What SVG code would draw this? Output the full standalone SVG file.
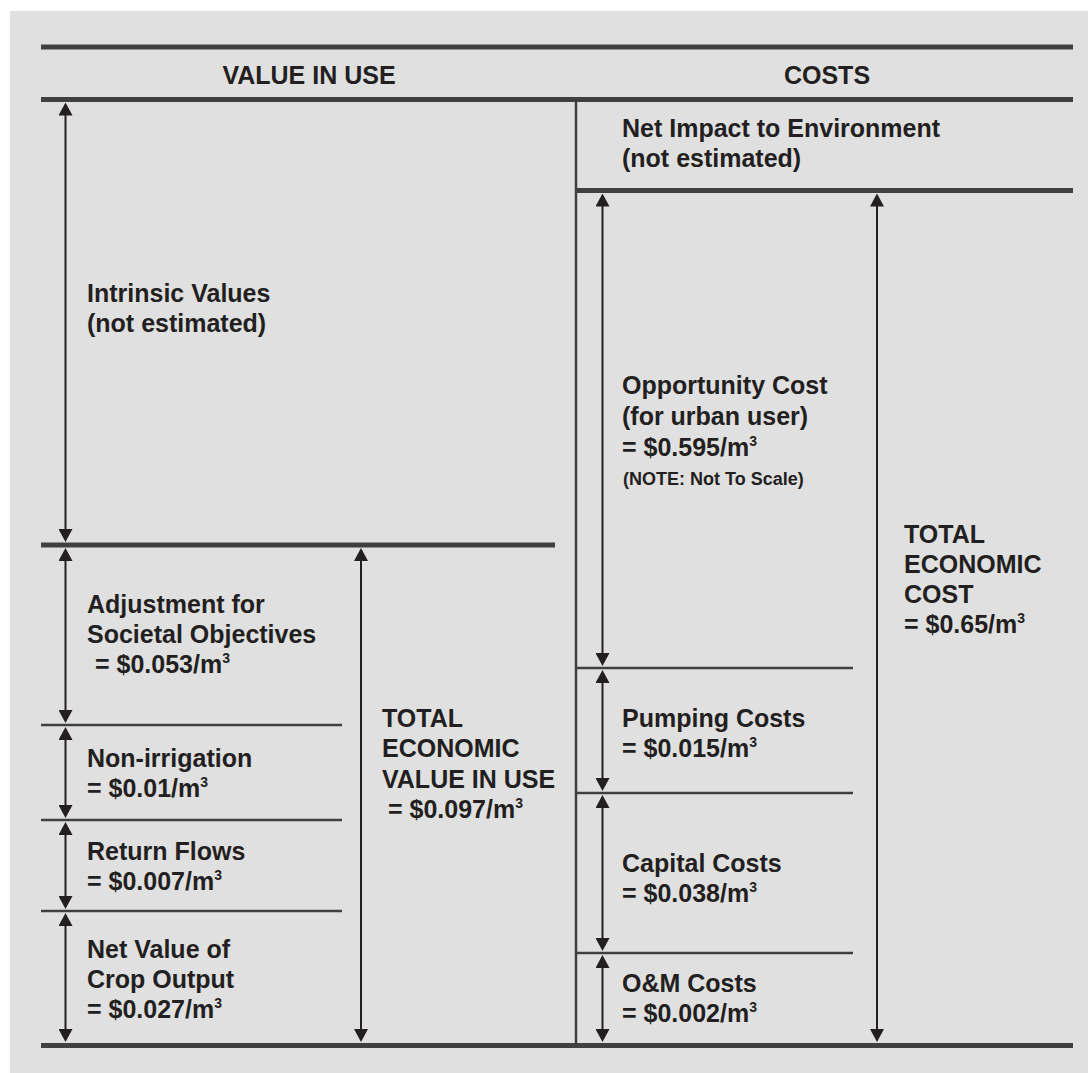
<svg xmlns="http://www.w3.org/2000/svg" width="1088" height="1073" viewBox="0 0 1088 1073">
<style>
.t{font-family:"Liberation Sans",Arial,sans-serif;font-weight:bold;font-size:25px;fill:#231f20}
.h{font-size:25px;text-anchor:middle}
.n{font-size:18px}
.thick{stroke:#404040;stroke-width:5;fill:none}
.thin{stroke:#404040;stroke-width:2.5;fill:none}
.arr{stroke:#231f20;stroke-width:2;fill:none;marker-start:url(#ah);marker-end:url(#ah)}
</style>
<defs>
<marker id="ah" viewBox="0 0 13 14" markerWidth="13" markerHeight="14" refX="10" refY="7" orient="auto-start-reverse" markerUnits="userSpaceOnUse">
<path d="M0,0 L13,7 L0,14 Z" fill="#231f20"/>
</marker>
</defs>
<rect x="0" y="0" width="1088" height="1073" fill="#ffffff"/>
<rect x="10" y="11" width="1078" height="1062" fill="#e0e0e0"/>

<g id="frame">
<line class="thick" x1="41" y1="47" x2="1073" y2="47"/>
<line class="thick" x1="41" y1="99.5" x2="1073" y2="99.5"/>
<line class="thick" x1="576" y1="190.5" x2="1073" y2="190.5"/>
<line class="thick" x1="41" y1="545" x2="555" y2="545"/>
<line class="thick" x1="41" y1="1045.5" x2="1073" y2="1045.5"/>
<line class="thin" x1="576" y1="99" x2="576" y2="1045"/>
<line class="thin" x1="41" y1="725" x2="342" y2="725"/>
<line class="thin" x1="41" y1="820" x2="342" y2="820"/>
<line class="thin" x1="41" y1="911" x2="342" y2="911"/>
<line class="thin" x1="576" y1="668" x2="853" y2="668"/>
<line class="thin" x1="576" y1="793" x2="853" y2="793"/>
<line class="thin" x1="576" y1="953" x2="853" y2="953"/>
</g>

<g id="headers">
<text class="t h" x="309" y="83.5">VALUE IN USE</text>
<text class="t h" x="827" y="83.5">COSTS</text>
</g>

<g id="connectors">
<line class="arr" x1="65.5" y1="105.5" x2="65.5" y2="539"/>
<line class="arr" x1="65.5" y1="551" x2="65.5" y2="720"/>
<line class="arr" x1="65.5" y1="730" x2="65.5" y2="815"/>
<line class="arr" x1="65.5" y1="825" x2="65.5" y2="906"/>
<line class="arr" x1="65.5" y1="916" x2="65.5" y2="1039"/>
<line class="arr" x1="361" y1="551" x2="361" y2="1039"/>
<line class="arr" x1="602.5" y1="196.5" x2="602.5" y2="663"/>
<line class="arr" x1="602.5" y1="673" x2="602.5" y2="788"/>
<line class="arr" x1="602.5" y1="798" x2="602.5" y2="948"/>
<line class="arr" x1="602.5" y1="958" x2="602.5" y2="1039"/>
<line class="arr" x1="877" y1="196.5" x2="877" y2="1039"/>
</g>

<g id="intrinsic">
<text class="t" x="87" y="301.5">Intrinsic Values</text>
<text class="t" x="87" y="331.5">(not estimated)</text>
</g>
<g id="adjustment">
<text class="t" x="87" y="613">Adjustment for</text>
<text class="t" x="87" y="643">Societal Objectives</text>
<text class="t" x="95" y="673">= $0.053/m<tspan font-size="14" dy="-10">3</tspan></text>
</g>
<g id="nonirrigation">
<text class="t" x="87" y="767">Non-irrigation</text>
<text class="t" x="87" y="797">= $0.01/m<tspan font-size="14" dy="-10">3</tspan></text>
</g>
<g id="returnflows">
<text class="t" x="87" y="860">Return Flows</text>
<text class="t" x="87" y="890">= $0.007/m<tspan font-size="14" dy="-10">3</tspan></text>
</g>
<g id="netvalue">
<text class="t" x="87" y="958">Net Value of</text>
<text class="t" x="87" y="988">Crop Output</text>
<text class="t" x="87" y="1018">= $0.027/m<tspan font-size="14" dy="-10">3</tspan></text>
</g>
<g id="totalvalue">
<text class="t" x="382" y="727">TOTAL</text>
<text class="t" x="382" y="757">ECONOMIC</text>
<text class="t" x="382" y="788">VALUE IN USE</text>
<text class="t" x="388" y="818">= $0.097/m<tspan font-size="14" dy="-10">3</tspan></text>
</g>

<g id="netimpact">
<text class="t" x="622" y="137">Net Impact to Environment</text>
<text class="t" x="622" y="167">(not estimated)</text>
</g>
<g id="opportunity">
<text class="t" x="622" y="394">Opportunity Cost</text>
<text class="t" x="622" y="425">(for urban user)</text>
<text class="t" x="622" y="456">= $0.595/m<tspan font-size="14" dy="-10">3</tspan></text>
<text class="t n" x="623" y="485">(NOTE: Not To Scale)</text>
</g>
<g id="pumping">
<text class="t" x="622" y="727">Pumping Costs</text>
<text class="t" x="622" y="757">= $0.015/m<tspan font-size="14" dy="-10">3</tspan></text>
</g>
<g id="capital">
<text class="t" x="622" y="872">Capital Costs</text>
<text class="t" x="622" y="902">= $0.038/m<tspan font-size="14" dy="-10">3</tspan></text>
</g>
<g id="om">
<text class="t" x="622" y="992">O&amp;M Costs</text>
<text class="t" x="622" y="1022">= $0.002/m<tspan font-size="14" dy="-10">3</tspan></text>
</g>
<g id="totalcost">
<text class="t" x="904" y="543">TOTAL</text>
<text class="t" x="904" y="573">ECONOMIC</text>
<text class="t" x="904" y="603">COST</text>
<text class="t" x="904" y="633">= $0.65/m<tspan font-size="14" dy="-10">3</tspan></text>
</g>
</svg>
